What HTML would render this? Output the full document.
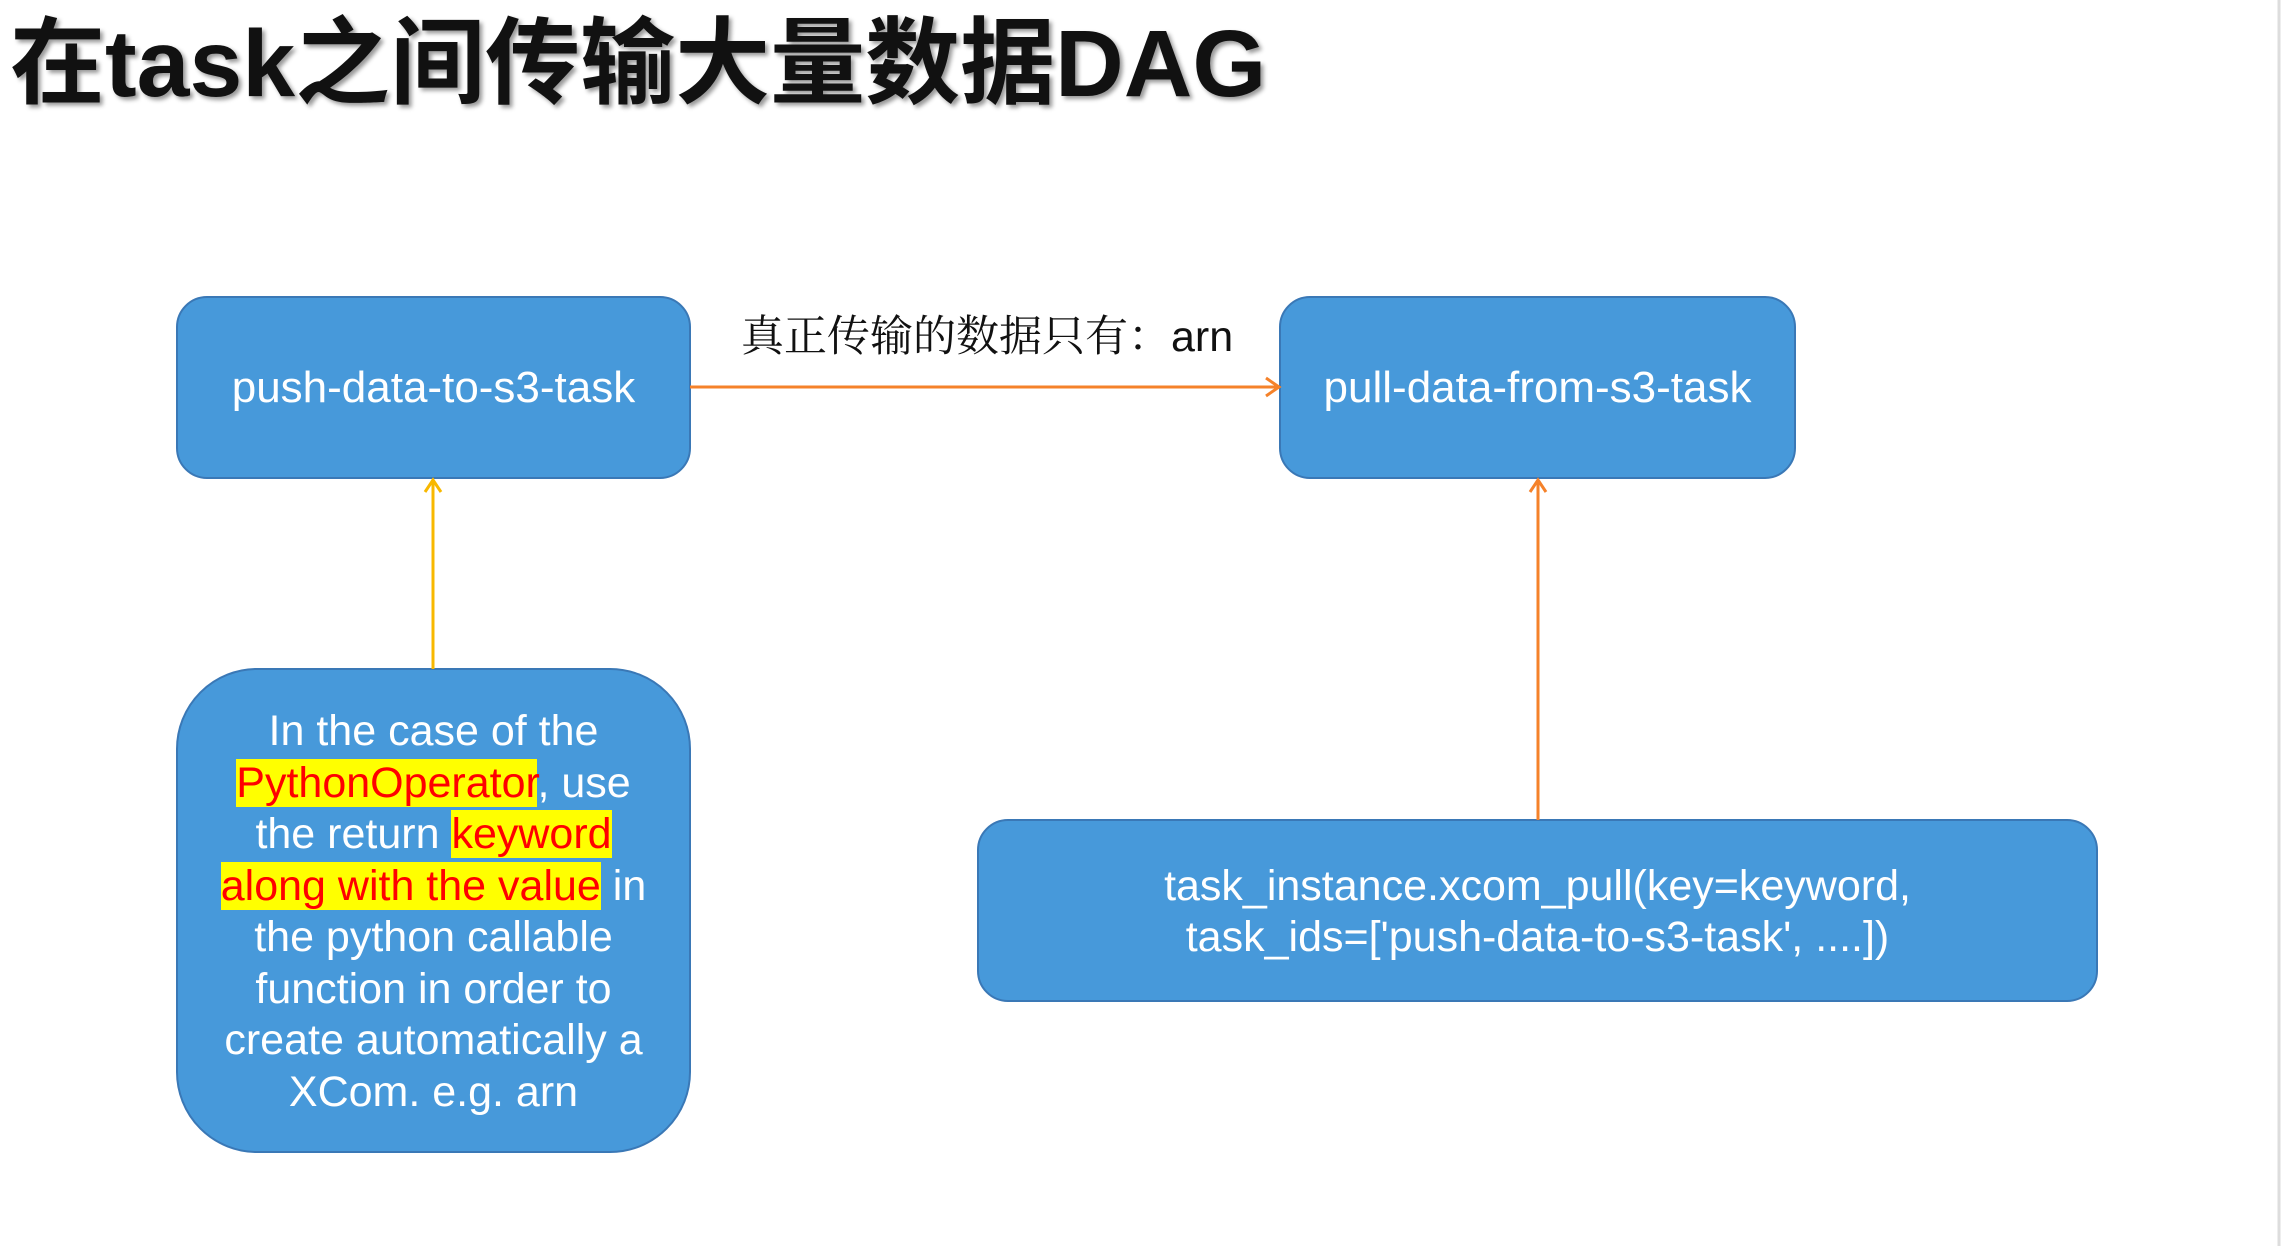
<!DOCTYPE html>
<html><head><meta charset="utf-8"><style>
html,body{margin:0;padding:0;background:#fff;}
body{width:2288px;height:1246px;position:relative;overflow:hidden;font-family:"Liberation Sans","Noto Sans CJK SC",sans-serif;}
.t{position:absolute;white-space:nowrap;}
.title{left:10px;top:4px;font-size:95px;font-weight:bold;color:#111;text-shadow:3px 3px 4px #999;line-height:120px;}
.box{position:absolute;color:#fff;font-size:43px;text-align:center;white-space:nowrap;}
.hl{background:#ffff00;color:#ff0000;}
</style></head><body>
<div class="t title">在task之间传输大量数据DAG</div>
<svg width="2288" height="1246" style="position:absolute;left:0;top:0">
<line x1="2279" y1="0" x2="2279" y2="1246" stroke="#ddd" stroke-width="3"/>
<rect x="177" y="297" width="513" height="181" rx="30" fill="#4799da" stroke="#3a78b6" stroke-width="2"/>
<rect x="1280" y="297" width="515" height="181" rx="30" fill="#4799da" stroke="#3a78b6" stroke-width="2"/>
<rect x="177" y="669" width="513" height="483" rx="80" fill="#4799da" stroke="#3a78b6" stroke-width="2"/>
<rect x="978" y="820" width="1119" height="181" rx="30" fill="#4799da" stroke="#3a78b6" stroke-width="2"/>
<line x1="690" y1="387" x2="1278" y2="387" stroke="#f5822a" stroke-width="3"/>
<polyline points="1266,378 1279,387 1266,396" fill="none" stroke="#f5822a" stroke-width="3"/>
<line x1="433" y1="669" x2="433" y2="480" stroke="#f8b800" stroke-width="3"/>
<polyline points="425,492 433,480 441,492" fill="none" stroke="#f8b800" stroke-width="3"/>
<line x1="1538" y1="820" x2="1538" y2="480" stroke="#f5822a" stroke-width="3"/>
<polyline points="1530,492 1538,480 1546,492" fill="none" stroke="#f5822a" stroke-width="3"/>
</svg>
<div class="t" style="left:741px;top:303px;font-size:43px;font-family:'Liberation Serif','Noto Serif CJK SC',serif;color:#111;">真正传输的数据只有：<span style="font-family:'Liberation Sans',sans-serif">arn</span></div>
<div class="box" style="left:177px;top:362px;width:513px;line-height:52px;font-size:44px;">push-data-to-s3-task</div>
<div class="box" style="left:1280px;top:362px;width:515px;line-height:52px;font-size:44px;">pull-data-from-s3-task</div>
<div class="box" style="left:177px;top:706px;width:513px;line-height:51.5px;">In the case of the<br><span class="hl">PythonOperator</span>, use<br>the return <span class="hl">keyword</span><br><span class="hl">along with the value</span> in<br>the python callable<br>function in order to<br>create automatically a<br>XCom. e.g. arn</div>
<div class="box" style="left:978px;top:861px;width:1119px;line-height:51px;">task_instance.xcom_pull(key=keyword,<br>task_ids=['push-data-to-s3-task', ....])</div>
</body></html>
